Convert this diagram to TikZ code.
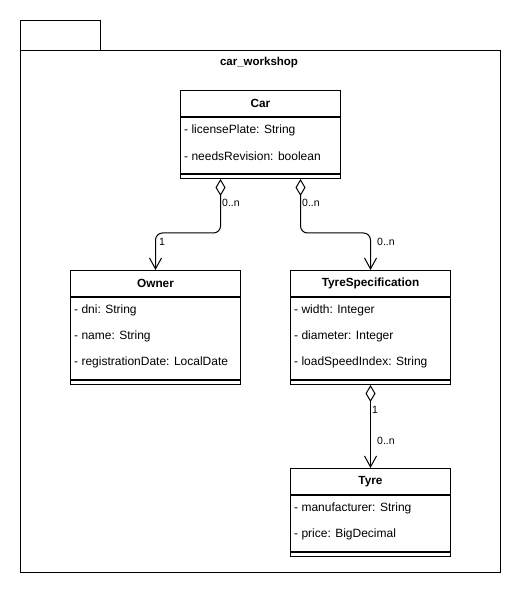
\documentclass[tikz,border=0pt]{standalone}
\usepackage{fontspec}
\setmainfont{Liberation Sans}
\usetikzlibrary{arrows.meta,positioning}
\tikzset{
  umlhead/.style={draw, line width=1pt, anchor=north west, minimum height=26pt,
                  inner sep=0pt, font=\fontsize{11.8}{14}\selectfont\bfseries},
  umlbody/.style={draw, line width=1pt, anchor=north west, inner sep=0pt},
  umlattr/.style={anchor=west, inner sep=0pt, font=\fontsize{12}{14}\selectfont},
  umllabel/.style={anchor=west, inner sep=0pt, font=\fontsize{10.5}{12}\selectfont},
  aggr/.style={{Diamond[open, length=17pt, width=10pt]}-{Straight Barb[length=11pt, width=12pt]},
               rounded corners=7pt, line width=1pt},
}

\begin{document}
\begin{tikzpicture}[x=1pt, y=1pt]
    \useasboundingbox (0,0) rectangle (522,-593);
    % package frame
    \node[umlbody, minimum width=80pt, minimum height=30pt] (pkgtab) at (20,-20) {};
    \node[umlbody, minimum width=480pt, minimum height=522pt] (pkg) at (20,-50) {};
    \node[font=\fontsize{11.5}{13}\selectfont\bfseries, inner sep=0pt] (pkgname) at (259,-63) {car\_workshop};
    % Car
    \node[umlhead, minimum width=160pt] (car) at (180,-90) {Car};
    \node[umlbody, minimum width=160pt, minimum height=56pt] (carattrs) at (car.south west) {};
    \node[umlbody, minimum width=160pt, minimum height=4pt] (carfoot) at (carattrs.south west) {};
    \node[umlattr] (carplate) at (184,-130) {- licensePlate: String};
    \node[umlattr] (carrev) at (184,-156) {- needsRevision: boolean};
    % Owner
    \node[umlhead, minimum width=170pt] (owner) at (70,-270) {Owner};
    \node[umlbody, minimum width=170pt, minimum height=82pt] (ownerattrs) at (owner.south west) {};
    \node[umlbody, minimum width=170pt, minimum height=4pt] (ownerfoot) at (ownerattrs.south west) {};
    \node[umlattr] (ownerdni) at (74,-310) {- dni: String};
    \node[umlattr] (ownername) at (74,-336) {- name: String};
    \node[umlattr] (ownerdate) at (74,-362) {- registrationDate: LocalDate};
    % TyreSpecification
    \node[umlhead, minimum width=160pt] (spec) at (290,-270) {TyreSpecification};
    \node[umlbody, minimum width=160pt, minimum height=82pt] (specattrs) at (spec.south west) {};
    \node[umlbody, minimum width=160pt, minimum height=4pt] (specfoot) at (specattrs.south west) {};
    \node[umlattr] (specwidth) at (294,-310) {- width: Integer};
    \node[umlattr] (specdiam) at (294,-336) {- diameter: Integer};
    \node[umlattr] (specload) at (294,-362) {- loadSpeedIndex: String};
    % Tyre
    \node[umlhead, minimum width=160pt] (tyre) at (290,-468) {Tyre};
    \node[umlbody, minimum width=160pt, minimum height=56pt] (tyreattrs) at (tyre.south west) {};
    \node[umlbody, minimum width=160pt, minimum height=4pt] (tyrefoot) at (tyreattrs.south west) {};
    \node[umlattr] (tyremaker) at (294,-508) {- manufacturer: String};
    \node[umlattr] (tyreprice) at (294,-534) {- price: BigDecimal};
    % associations
    \draw[aggr] ([xshift=-40pt]carfoot.south) -- ++(0,-54) -| (owner.north);
    \draw[aggr] ([xshift=40pt]carfoot.south) -- ++(0,-54) -| (spec.north);
    \draw[aggr] (specfoot.south) -- (tyre.north);
    \node[umllabel] (ownersrc) at (222,-203) {0..n};
    \node[umllabel] (ownerdst) at (159,-242) {1};
    \node[umllabel] (specsrc) at (302,-203) {0..n};
    \node[umllabel] (specdst) at (377,-242) {0..n};
    \node[umllabel] (tyresrc) at (372,-410) {1};
    \node[umllabel] (tyredst) at (377,-441) {0..n};
  \end{tikzpicture}
\end{document}
